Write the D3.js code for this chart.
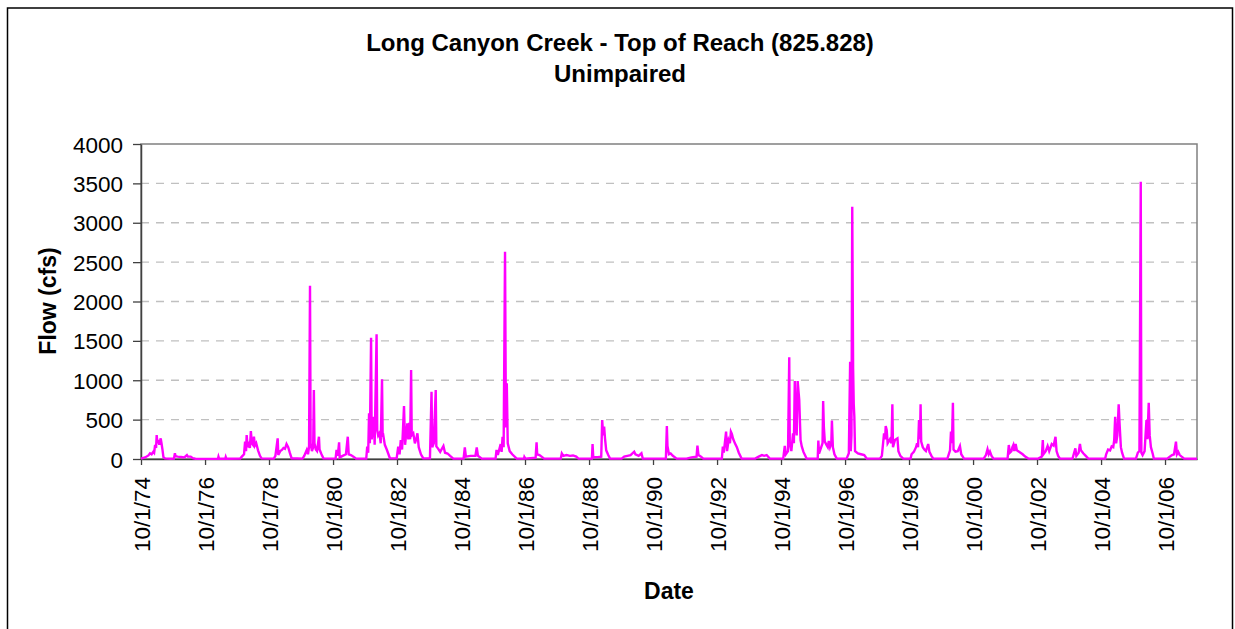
<!DOCTYPE html>
<html><head><meta charset="utf-8">
<script src="https://cdn.jsdelivr.net/npm/d3@7"></script>
<style>
body{margin:0;background:#fff}
svg{display:block}
text{font-family:"Liberation Sans",Arial,Helvetica,sans-serif;fill:#000}
</style>
</head><body>
<svg id="chart" width="1235" height="629"></svg>
<script>
const titleLines = ["Long Canyon Creek - Top of Reach (825.828)", "Unimpaired"];
const xAxisTitle = "Date";
const yAxisTitle = "Flow (cfs)";
const yTicks = [0, 500, 1000, 1500, 2000, 2500, 3000, 3500, 4000];
const xTickDates = ["1974-10-01","1976-10-01","1978-10-01","1980-10-01","1982-10-01","1984-10-01","1986-10-01","1988-10-01","1990-10-01","1992-10-01","1994-10-01","1996-10-01","1998-10-01","2000-10-01","2002-10-01","2004-10-01","2006-10-01"];
const xTickLabels = ["10/1/74","10/1/76","10/1/78","10/1/80","10/1/82","10/1/84","10/1/86","10/1/88","10/1/90","10/1/92","10/1/94","10/1/96","10/1/98","10/1/00","10/1/02","10/1/04","10/1/06"];
const xDomain = ["1974-10-01", "2007-10-01"];

// Daily flow (cfs), key points
const flowSeries = [
["1974-10-01",5],["1974-11-16",20],["1974-12-25",45],["1975-01-12",72],["1975-01-30",60],["1975-02-19",93],["1975-02-28",80],["1975-03-11",178],["1975-03-22",140],["1975-03-29",305],["1975-04-06",200],["1975-04-17",240],["1975-04-28",180],["1975-05-14",262],["1975-05-23",200],["1975-06-03",120],["1975-06-14",25],["1975-07-01",8],["1975-09-01",4],
["1975-10-12",5],["1975-10-23",72],["1975-10-30",35],["1975-11-24",30],["1976-01-01",25],["1976-02-07",20],["1976-03-08",50],["1976-03-19",30],["1976-04-20",30],["1976-05-15",10],["1976-06-13",3],
["1976-10-01",2],["1977-02-25",3],["1977-03-03",30],["1977-03-10",5],["1977-05-20",4],["1977-05-25",25],["1977-06-01",3],
["1977-11-07",5],["1977-11-25",30],["1977-12-20",60],["1978-01-01",220],["1978-01-12",100],["1978-01-19",305],["1978-01-30",150],["1978-02-14",190],["1978-02-25",140],["1978-03-08",355],["1978-03-19",200],["1978-04-01",180],["1978-04-12",283],["1978-04-23",170],["1978-05-08",200],["1978-05-29",110],["1978-06-20",40],["1978-07-08",8],
["1978-11-25",5],["1978-12-13",40],["1979-01-08",262],["1979-01-15",50],["1979-02-06",100],["1979-02-25",115],["1979-03-15",140],["1979-04-01",130],["1979-04-19",190],["1979-05-08",150],["1979-05-26",80],["1979-06-16",10],
["1979-10-19",5],["1979-11-07",40],["1979-12-06",115],["1979-12-20",60],["1980-01-01",150],["1980-01-12",2201],["1980-01-19",200],["1980-02-03",100],["1980-02-17",150],["1980-02-25",876],["1980-03-03",200],["1980-03-18",120],["1980-04-01",100],["1980-04-23",283],["1980-04-30",120],["1980-05-22",60],["1980-06-13",8],
["1980-10-30",5],["1980-11-10",115],["1980-11-24",40],["1980-12-09",212],["1980-12-16",20],["1981-01-18",40],["1981-02-25",60],["1981-03-18",283],["1981-03-29",60],["1981-04-23",50],["1981-05-22",30],["1981-06-21",5],
["1981-10-15",5],["1981-10-26",157],["1981-11-06",80],["1981-11-16",580],["1981-11-25",200],["1981-12-09",1541],["1981-12-16",250],["1982-01-01",400],["1982-01-08",537],["1982-01-19",180],["1982-02-10",1583],["1982-02-17",368],["1982-02-28",300],["1982-03-15",330],["1982-03-29",200],["1982-04-13",1012],["1982-04-20",300],["1982-04-27",305],["1982-05-15",180],["1982-06-06",120],["1982-07-12",10],
["1982-09-27",8],["1982-10-15",157],["1982-10-30",60],["1982-11-13",240],["1982-11-28",120],["1982-12-20",673],["1983-01-01",180],["1983-01-27",453],["1983-02-07",250],["1983-02-17",461],["1983-02-28",250],["1983-03-11",1130],["1983-03-18",300],["1983-04-05",326],["1983-04-23",200],["1983-05-08",250],["1983-05-22",326],["1983-06-06",150],["1983-07-01",60],["1983-07-27",10],
["1983-10-12",8],["1983-10-30",855],["1983-11-07",150],["1983-11-25",200],["1983-12-17",876],["1983-12-24",160],["1984-01-11",135],["1984-02-06",90],["1984-03-14",165],["1984-04-01",80],["1984-04-30",70],["1984-05-29",40],["1984-07-05",5],
["1984-10-30",5],["1984-11-13",148],["1984-11-25",30],["1985-01-18",40],["1985-03-14",40],["1985-03-29",148],["1985-04-12",40],["1985-05-26",5],
["1985-10-30",5],["1985-11-10",115],["1985-11-25",50],["1985-12-27",190],["1986-01-07",90],["1986-01-18",283],["1986-01-30",150],["1986-02-15",2633],["1986-02-25",400],["1986-03-07",961],["1986-03-18",200],["1986-04-09",100],["1986-05-08",60],["1986-06-28",5],
["1986-09-20",5],["1986-09-24",25],["1986-10-05",5],["1987-01-30",15],["1987-02-10",212],["1987-02-17",60],["1987-03-15",50],["1987-05-08",5],
["1987-11-13",5],["1987-11-25",72],["1987-12-13",40],["1988-01-18",50],["1988-02-25",40],["1988-04-01",45],["1988-05-08",30],["1988-06-02",5],
["1988-11-03",5],["1988-11-10",190],["1988-11-18",20],["1989-01-18",25],["1989-02-17",30],["1989-02-28",495],["1989-03-11",300],["1989-03-22",410],["1989-04-01",262],["1989-04-15",110],["1989-05-08",50],["1989-05-29",5],
["1989-10-08",5],["1989-11-06",30],["1989-12-13",40],["1990-01-18",50],["1990-02-28",93],["1990-03-14",60],["1990-04-20",40],["1990-05-22",72],["1990-06-06",5],
["1991-02-25",5],["1991-03-08",419],["1991-03-15",165],["1991-04-01",60],["1991-04-20",70],["1991-05-15",40],["1991-06-28",5],
["1991-10-19",5],["1991-12-13",20],["1992-02-10",30],["1992-02-20",169],["1992-03-03",50],["1992-04-01",30],["1992-04-27",5],
["1992-11-25",5],["1992-12-06",157],["1992-12-17",80],["1993-01-12",347],["1993-01-23",100],["1993-02-10",240],["1993-02-25",200],["1993-03-08",347],["1993-03-19",320],["1993-04-01",260],["1993-04-23",199],["1993-05-15",150],["1993-06-06",80],["1993-07-08",5],
["1993-12-10",5],["1994-01-19",30],["1994-02-25",50],["1994-03-22",40],["1994-04-20",50],["1994-05-26",5],
["1994-10-26",5],["1994-11-13",165],["1994-11-25",60],["1994-12-20",100],["1995-01-03",1291],["1995-01-09",200],["1995-01-27",100],["1995-02-15",326],["1995-02-25",200],["1995-03-07",990],["1995-03-18",453],["1995-03-29",300],["1995-04-09",990],["1995-04-27",750],["1995-05-12",240],["1995-05-26",160],["1995-06-14",90],["1995-07-20",5],
["1995-11-24",5],["1995-12-01",233],["1995-12-09",70],["1996-01-03",150],["1996-01-18",200],["1996-01-25",737],["1996-02-02",410],["1996-02-13",220],["1996-03-03",180],["1996-03-18",150],["1996-03-29",228],["1996-04-12",150],["1996-04-27",200],["1996-05-04",487],["1996-05-15",150],["1996-06-02",60],["1996-06-28",5],
["1996-10-19",5],["1996-11-13",72],["1996-11-28",1236],["1996-12-05",100],["1996-12-13",300],["1996-12-22",3204],["1997-01-01",1151],["1997-01-08",700],["1997-01-15",537],["1997-01-23",100],["1997-02-25",70],["1997-04-01",60],["1997-05-08",50],["1997-06-06",5],
["1997-11-03",5],["1997-11-25",40],["1997-12-20",326],["1998-01-01",250],["1998-01-08",419],["1998-01-19",368],["1998-01-30",200],["1998-02-25",250],["1998-03-15",200],["1998-03-25",694],["1998-04-01",150],["1998-04-23",240],["1998-05-22",262],["1998-06-02",100],["1998-06-24",40],["1998-07-27",5],
["1998-10-19",5],["1998-10-30",60],["1998-11-25",90],["1998-12-20",150],["1999-01-01",200],["1999-01-12",150],["1999-01-23",495],["1999-02-03",250],["1999-02-10",694],["1999-02-17",220],["1999-03-07",150],["1999-03-25",120],["1999-04-12",100],["1999-05-08",190],["1999-05-22",90],["1999-06-14",40],["1999-07-05",5],
["1999-12-13",5],["2000-01-01",72],["2000-01-12",110],["2000-01-23",347],["2000-02-03",200],["2000-02-14",715],["2000-02-21",120],["2000-03-14",93],["2000-04-09",100],["2000-05-04",165],["2000-05-19",60],["2000-06-20",5],
["2001-01-30",5],["2001-02-25",50],["2001-03-15",123],["2001-03-29",60],["2001-04-12",93],["2001-04-30",40],["2001-05-22",5],
["2001-10-30",5],["2001-11-13",178],["2001-11-25",80],["2001-12-13",100],["2001-12-24",150],["2002-01-04",178],["2002-01-15",100],["2002-01-30",190],["2002-02-13",110],["2002-03-14",90],["2002-04-20",60],["2002-05-19",30],["2002-06-24",5],
["2002-10-15",5],["2002-11-25",30],["2002-12-06",240],["2002-12-13",60],["2003-01-08",100],["2003-01-30",165],["2003-02-17",100],["2003-03-18",190],["2003-04-09",170],["2003-04-30",283],["2003-05-12",100],["2003-05-30",40],["2003-06-20",5],
["2003-11-10",5],["2003-12-13",135],["2003-12-24",40],["2004-01-19",80],["2004-02-03",190],["2004-02-14",110],["2004-03-14",70],["2004-04-09",40],["2004-05-08",5],
["2004-11-17",5],["2004-11-28",60],["2004-12-20",120],["2005-01-12",110],["2005-01-30",160],["2005-02-17",150],["2005-02-28",240],["2005-03-11",537],["2005-03-22",200],["2005-04-05",300],["2005-04-20",694],["2005-04-30",453],["2005-05-15",150],["2005-05-29",80],["2005-06-20",5],
["2005-11-03",5],["2005-11-25",80],["2005-12-13",100],["2005-12-28",3522],["2006-01-04",80],["2006-01-18",50],["2006-02-10",100],["2006-03-03",495],["2006-03-14",250],["2006-03-29",715],["2006-04-09",300],["2006-04-23",150],["2006-05-15",60],["2006-05-26",5],
["2006-10-26",5],["2006-11-24",30],["2006-12-20",50],["2007-01-12",60],["2007-02-03",220],["2007-02-14",60],["2007-03-01",90],["2007-03-18",50],["2007-04-09",30],["2007-05-08",5],["2007-09-30",3]
];

const parse = d3.timeParse("%Y-%m-%d");
const svg = d3.select("#chart");
const W = 1235, H = 629;
const plot = {left: 141, right: 1197, top: 144, bottom: 459};

svg.append("rect").attr("width", W).attr("height", H).attr("fill", "#fff");
// outer chart frame
svg.append("rect").attr("x", 7.5).attr("y", 8).attr("width", 1225).attr("height", 660)
  .attr("fill", "none").attr("stroke", "#000").attr("stroke-width", 1.5);

const x = d3.scaleTime().domain(xDomain.map(parse)).range([plot.left, plot.right]);
const y = d3.scaleLinear().domain([0, 4000]).range([plot.bottom, plot.top]);

// gridlines
svg.append("g").selectAll("line").data(yTicks.filter(v => v > 0 && v < 4000)).join("line")
  .attr("x1", plot.left).attr("x2", plot.right)
  .attr("y1", d => y(d)).attr("y2", d => y(d))
  .attr("stroke", "#c0c0c0").attr("stroke-width", 1.3).attr("stroke-dasharray", "8,7");

// plot border (top/right)
svg.append("rect").attr("x", plot.left).attr("y", plot.top)
  .attr("width", plot.right - plot.left).attr("height", plot.bottom - plot.top)
  .attr("fill", "none").attr("stroke", "#808080").attr("stroke-width", 1.5);

// y axis
const yAxis = svg.append("g").attr("transform", `translate(${plot.left},0)`)
  .call(d3.axisLeft(y).tickValues(yTicks).tickSize(8).tickSizeOuter(0).tickPadding(10).tickFormat(d3.format("d")));
yAxis.select(".domain").attr("stroke", "#404040").attr("stroke-width", 1.5);
yAxis.selectAll(".tick line").attr("stroke", "#404040").attr("stroke-width", 1.3);
yAxis.selectAll(".tick text").style("font-size", "22.5px").attr("dy", "0.36em").attr("fill", "#000");

// x axis
const xTickDateObjs = xTickDates.map(parse);
const xAxis = svg.append("g").attr("transform", `translate(0,${plot.bottom})`)
  .call(d3.axisBottom(x).tickValues(xTickDateObjs).tickSize(6).tickSizeOuter(0)
    .tickFormat((d, i) => xTickLabels[i]));
xAxis.select(".domain").attr("stroke", "#404040").attr("stroke-width", 1.5);
xAxis.selectAll(".tick line").attr("stroke", "#404040").attr("stroke-width", 1.3);
xAxis.selectAll(".tick text")
  .style("font-size", "22.5px").attr("fill", "#000")
  .attr("transform", "rotate(-90)")
  .attr("text-anchor", "end")
  .attr("x", -18).attr("y", 0).attr("dy", "0.36em");

// flow line
const line = d3.line().x(d => x(parse(d[0]))).y(d => y(d[1]));
svg.append("path").datum(flowSeries)
  .attr("d", line).attr("fill", "none")
  .attr("stroke", "#ff00ff").attr("stroke-width", 2.4).attr("stroke-linejoin", "miter");

// titles
svg.append("g").selectAll("text").data(titleLines).join("text")
  .attr("x", 620).attr("y", (d, i) => 51 + i * 31)
  .attr("text-anchor", "middle")
  .style("font-size", "24px").style("font-weight", "bold")
  .text(d => d);

svg.append("text").attr("x", (plot.left + plot.right) / 2).attr("y", 599)
  .attr("text-anchor", "middle").style("font-size", "23px").style("font-weight", "bold")
  .text(xAxisTitle);

svg.append("text").attr("transform", `translate(56,301) rotate(-90)`)
  .attr("text-anchor", "middle").style("font-size", "23px").style("font-weight", "bold")
  .text(yAxisTitle);
</script>
</body></html>
